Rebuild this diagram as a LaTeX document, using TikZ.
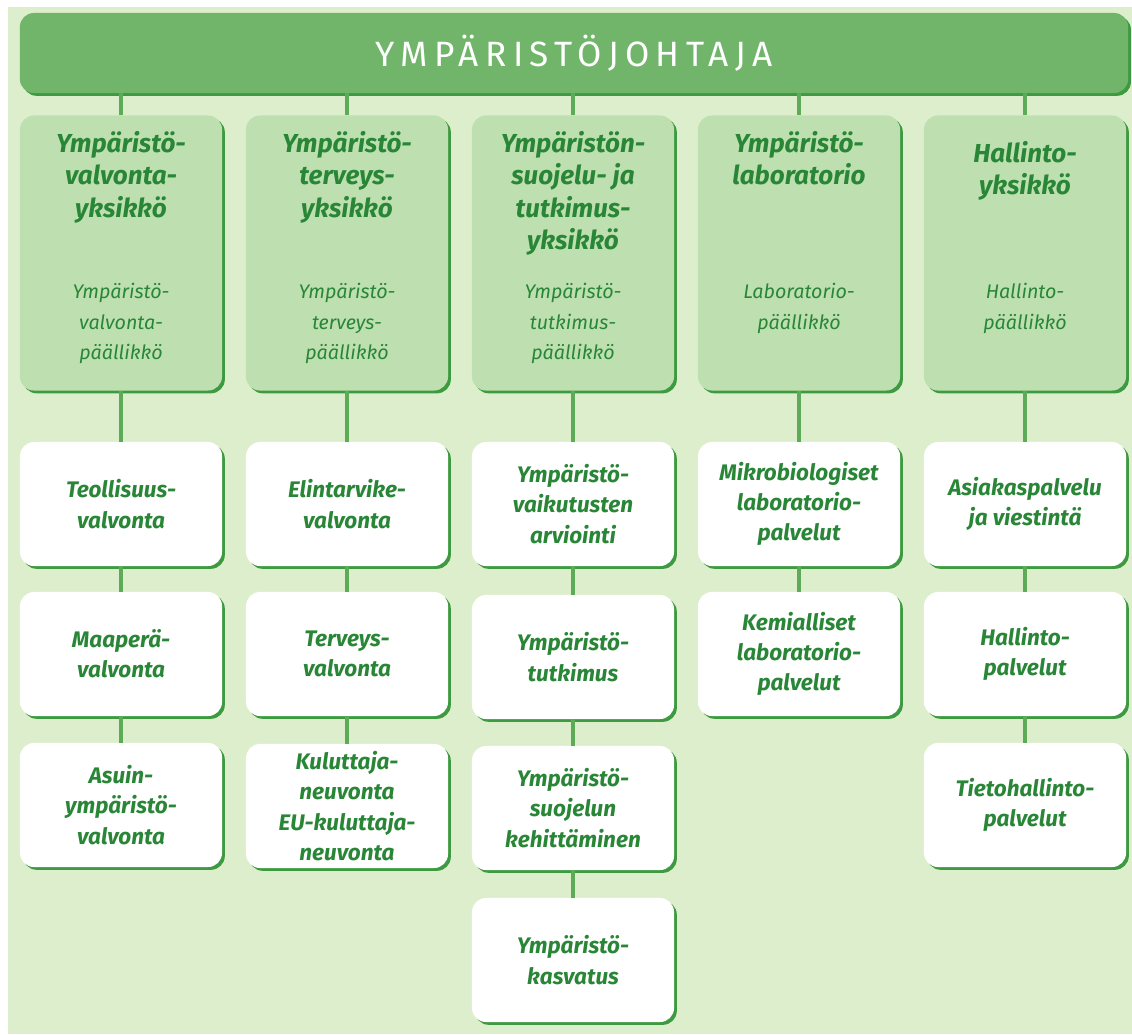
\documentclass[tikz,border=0pt]{standalone}
\usepackage{fontspec}
\setmainfont{Fira Sans}
\newfontfamily\headfont[LetterSpace=18]{Fira Sans}
\usetikzlibrary{shapes,arrows,calc,positioning,shadows}
\definecolor{bggreen}{HTML}{DCEECB}
\definecolor{topgreen}{HTML}{70B56A}
\definecolor{unitgreen}{HTML}{BEE0B1}
\definecolor{shadegreen}{HTML}{3E9A40}
\definecolor{textgreen}{HTML}{288636}
\definecolor{linegreen}{HTML}{5DAA57}
\tikzset{box/.style={rectangle, rounded corners=0.35cm, minimum width=5.05cm, inner sep=0pt,
  drop shadow={shadow xshift=2pt, shadow yshift=-2pt, fill=shadegreen, opacity=1}}}
\tikzstyle{unit}=[box, fill=unitgreen, minimum height=6.875cm]
\tikzstyle{wbox}=[box, fill=white, minimum height=3.1cm, text=textgreen, align=center,
  font=\fontsize{16}{21.5}\selectfont\bfseries\itshape]
\tikzstyle{utitle}=[anchor=north, inner sep=0pt, text=textgreen, align=center,
  font=\fontsize{18.5}{23}\selectfont\bfseries\itshape]
\tikzstyle{usub}=[anchor=north, inner sep=0pt, text=textgreen, align=center,
  font=\fontsize{14}{21.7}\selectfont\itshape]
\tikzstyle{conn}=[draw=linegreen, line width=2.8pt]

\begin{document}
\begin{tikzpicture}[x=0.025cm, y=-0.025cm]
\useasboundingbox (0,0) rectangle (1132,1034);
\fill[white] (0,0) rectangle (1132,1034);
\fill[bggreen] (8,7) rectangle (1132,1034);

% director
\node[box, fill=topgreen, minimum width=27.7cm, minimum height=2cm, text=white,
  font=\fontsize{25}{30}\headfont] (T) at (574,53) {YMPÄRISTÖJOHTAJA};

% units
\node[unit] (U1) at (121,253) {};
\node[unit] (U2) at (347,253) {};
\node[unit] (U3) at (573,253) {};
\node[unit] (U4) at (799,253) {};
\node[unit] (U5) at (1025,253) {};

\node[utitle] (U1t) at (121,131) {Ympäristö-\\valvonta-\\yksikkö};
\node[utitle] (U2t) at (347,131) {Ympäristö-\\terveys-\\yksikkö};
\node[utitle] (U3t) at (573,131) {Ympäristön-\\suojelu- ja\\tutkimus-\\yksikkö};
\node[utitle] (U4t) at (799,131) {Ympäristö-\\laboratorio};
\node[utitle] (U5t) at (1025,141) {Hallinto-\\yksikkö};

\node[usub] (U1s) at (121,283) {Ympäristö-\\valvonta-\\päällikkö};
\node[usub] (U2s) at (347,283) {Ympäristö-\\terveys-\\päällikkö};
\node[usub] (U3s) at (573,283) {Ympäristö-\\tutkimus-\\päällikkö};
\node[usub] (U4s) at (799,283) {Laboratorio-\\päällikkö};
\node[usub] (U5s) at (1025,283) {Hallinto-\\päällikkö};

% services
\node[wbox] (W11) at (121,504) {Teollisuus-\\valvonta};
\node[wbox] (W12) at (121,654) {Maaperä-\\valvonta};
\node[wbox] (W13) at (121,805) {Asuin-\\ympäristö-\\valvonta};

\node[wbox] (W21) at (347,504) {Elintarvike-\\valvonta};
\node[wbox] (W22) at (347,654) {Terveys-\\valvonta};
\node[wbox] (W23) at (347,806) {Kuluttaja-\\neuvonta\\EU-kuluttaja-\\neuvonta};

\node[wbox] (W31) at (573,504) {Ympäristö-\\vaikutusten\\arviointi};
\node[wbox] (W32) at (573,657) {Ympäristö-\\tutkimus};
\node[wbox] (W33) at (573,808) {Ympäristö-\\suojelun\\kehittäminen};
\node[wbox] (W34) at (573,960) {Ympäristö-\\kasvatus};

\node[wbox] (W41) at (799,504) {Mikrobiologiset\\laboratorio-\\palvelut};
\node[wbox] (W42) at (799,654) {Kemialliset\\laboratorio-\\palvelut};

\node[wbox] (W51) at (1025,504) {Asiakaspalvelu\\ja viestintä};
\node[wbox] (W52) at (1025,654) {Hallinto-\\palvelut};
\node[wbox] (W53) at (1025,805) {Tietohallinto-\\palvelut};

% lines
\foreach \u in {U1,U2,U3,U4,U5}
  \draw[conn] (T.south -| \u.north) -- (\u.north);
\draw[conn] (U1) -- (W11) (W11) -- (W12) (W12) -- (W13);
\draw[conn] (U2) -- (W21) (W21) -- (W22) (W22) -- (W23);
\draw[conn] (U3) -- (W31) (W31) -- (W32) (W32) -- (W33) (W33) -- (W34);
\draw[conn] (U4) -- (W41) (W41) -- (W42);
\draw[conn] (U5) -- (W51) (W51) -- (W52) (W52) -- (W53);
\end{tikzpicture}
\end{document}
